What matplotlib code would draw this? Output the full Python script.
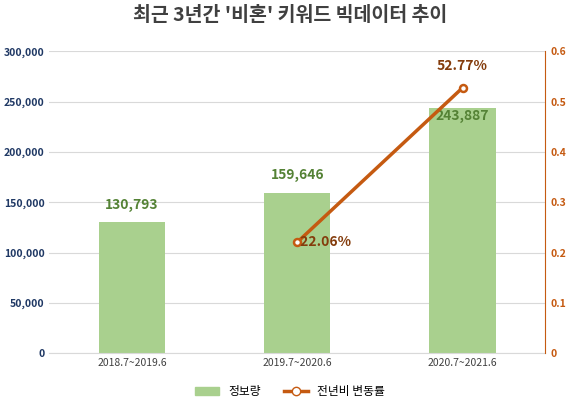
import matplotlib
matplotlib.use("Agg")
import matplotlib.pyplot as plt

plt.rcParams['font.family'] = ['Noto Sans CJK KR', 'DejaVu Sans']

categories = ["2018.7~2019.6", "2019.7~2020.6", "2020.7~2021.6"]
volumes = [130793, 159646, 243887]
change = [None, 0.2206, 0.5277]

fig = plt.figure(figsize=(5.8, 4.05), dpi=100)
ax = fig.add_axes([0.085, 0.128, 0.855, 0.745])
ax2 = ax.twinx()

x = range(len(categories))
ax.bar(x, volumes, width=0.4, color="#A9D08E", zorder=2)
offsets = [17000, 17000, -8000]
for i, v in enumerate(volumes):
    ax.text(i, v + offsets[i], f"{v:,}", ha="center", va="center", color="#548235",
            fontsize=10, fontweight="bold", zorder=5)
ax.set_ylim(0, 300000)
ax.set_yticks(range(0, 300001, 50000))
ax.set_yticklabels([f"{t:,}" for t in range(0, 300001, 50000)], color="#1F3864",
                   fontsize=7.5, fontweight="bold")
ax.set_xlim(-0.5, 2.5)
ax.set_xticks(list(x))
ax.set_xticklabels(categories, fontsize=7.5, color="#404040")
ax.grid(axis="y", color="#D9D9D9", lw=0.8, zorder=0)
for s in ["top", "left", "right"]:
    ax.spines[s].set_visible(False)
ax.spines["bottom"].set_color("#D9D9D9")
ax.tick_params(length=0)

xs = [i for i, c in enumerate(change) if c is not None]
ys = [c for c in change if c is not None]
ax2.plot(xs, ys, color="#C55A11", lw=2.5, marker="o", markersize=5,
         markerfacecolor="white", markeredgecolor="#C55A11", markeredgewidth=1.8, zorder=3)
ax2.text(1.0, 0.2206, " 22.06%", ha="left", va="center", color="#843C0C",
         fontsize=10, fontweight="bold")
ax2.text(2.0, 0.5277 + 0.03, "52.77%", ha="center", va="bottom", color="#843C0C",
         fontsize=10, fontweight="bold")
ax2.set_ylim(0, 0.6)
ax2.set_yticks([0, 0.1, 0.2, 0.3, 0.4, 0.5, 0.6])
ax2.set_yticklabels(["0", "0.1", "0.2", "0.3", "0.4", "0.5", "0.6"], color="#C55A11",
                    fontsize=7.5, fontweight="bold")
for s in ["top", "left", "bottom"]:
    ax2.spines[s].set_visible(False)
ax2.spines["right"].set_color("#C55A11")
ax2.tick_params(length=0)

fig.suptitle("최근 3년간 '비혼' 키워드 빅데이터 추이", x=0.5, y=0.985,
             fontsize=14, fontweight="bold", color="#404040")

from matplotlib.patches import Patch
from matplotlib.lines import Line2D
handles = [Patch(color="#A9D08E", label="정보량"),
           Line2D([], [], color="#C55A11", lw=2.5, marker="o", markerfacecolor="white",
                  markeredgecolor="#C55A11", label="전년비 변동률")]
fig.legend(handles=handles, loc="lower center", ncol=2, frameon=False,
           bbox_to_anchor=(0.5, -0.01), fontsize=8.5)

fig.savefig("out.png", dpi=100)
